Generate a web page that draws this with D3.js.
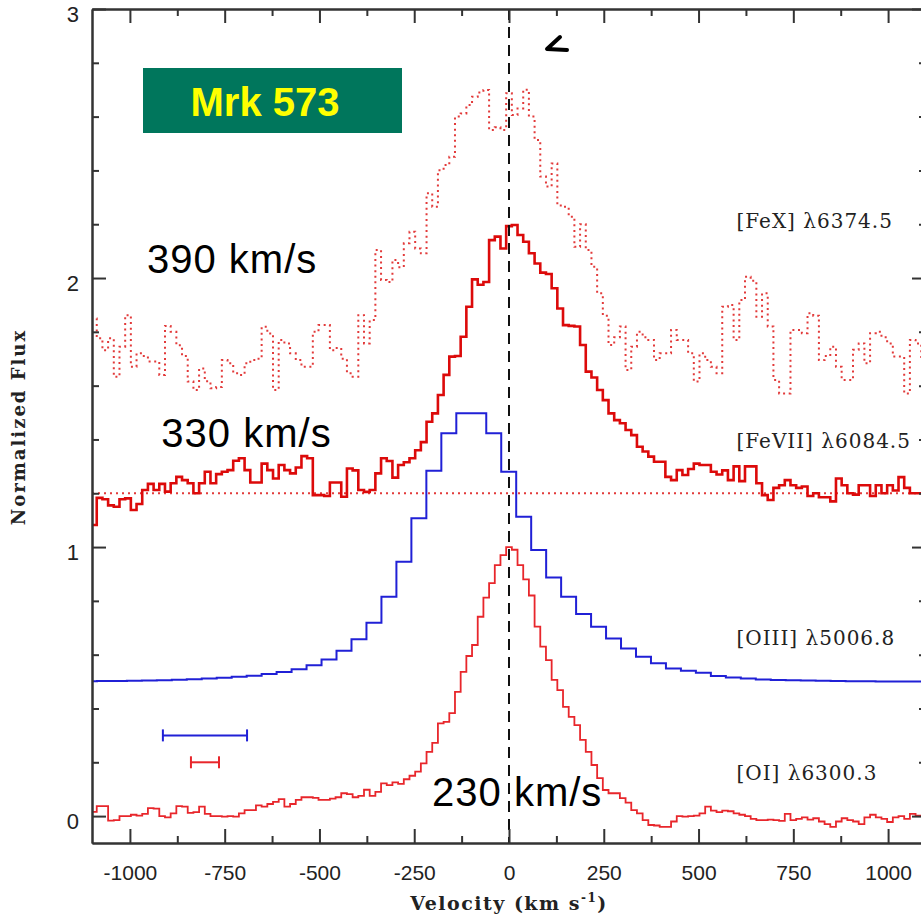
<!DOCTYPE html>
<html>
<head>
<meta charset="utf-8">
<script src="https://cdn.jsdelivr.net/npm/d3@7"></script>
<style>
  body { margin: 0; background: #fff; }
  svg { display: block; }
</style>
</head>
<body>
<svg id="chart"></svg>
<script>
// histogram bins (km/s): red spectra share one grid, [OIII] has coarser bins
const redBinStart = -1102.5;
const redBinWidth = 15;
const oiiiBinStart = -1126.5;
const oiiiBinWidth = 39.5;

// [OI] 6300.3, normalised flux per bin
const oiFlux = [
  0.016, 0.037, 0.037, -0.017, -0.015, 0.0, 0.0, 0.005, 0.002, 0.008,
  0.03, 0.028, 0.0, -0.005, 0.01, 0.037, 0.035, 0.012, 0.015, 0.035,
  0.008, 0.0, 0.0, -0.002, 0.0, -0.002, 0.01, 0.022, 0.022, 0.04,
  0.035, 0.045, 0.053, 0.063, 0.035, 0.045, 0.06, 0.07, 0.07, 0.068,
  0.06, 0.06, 0.065, 0.07, 0.085, 0.082, 0.07, 0.075, 0.098, 0.075,
  0.09, 0.122, 0.115, 0.125, 0.12, 0.137, 0.15, 0.165, 0.196, 0.239,
  0.272, 0.345, 0.35, 0.383, 0.462, 0.536, 0.595, 0.636, 0.741, 0.812,
  0.866, 0.933, 0.97, 1.0, 0.99, 0.933, 0.88, 0.82, 0.704, 0.63,
  0.58, 0.506, 0.468, 0.406, 0.369, 0.338, 0.283, 0.239, 0.19, 0.141,
  0.097, 0.085, 0.085, 0.067, 0.05, 0.022, 0.01, -0.015, -0.033, -0.035,
  -0.04, -0.04, -0.02, 0.0, -0.002, 0.0, 0.002, 0.01, 0.035, 0.02,
  0.015, 0.02, 0.018, 0.01, 0.005, 0.0, -0.01, -0.015, -0.015, -0.013,
  -0.015, -0.018, 0.008, -0.015, -0.01, -0.005, -0.013, -0.008, -0.02, -0.03,
  -0.04, -0.02, -0.008, -0.015, -0.02, -0.03, -0.005, 0.005, -0.005, -0.01,
  -0.022, -0.005, 0.0, -0.01, 0.008, 0.002, 0.0
];

// [OIII] 5006.8 (offset by +0.5)
const oiiiFlux = [
  0.501, 0.502, 0.502, 0.503, 0.504, 0.505, 0.507, 0.509, 0.511, 0.514,
  0.518, 0.522, 0.528, 0.536, 0.546, 0.561, 0.582, 0.615, 0.657, 0.719,
  0.815, 0.945, 1.107, 1.284, 1.423, 1.497, 1.497, 1.423, 1.28, 1.113,
  0.989, 0.887, 0.815, 0.751, 0.704, 0.66, 0.623, 0.592, 0.568, 0.549,
  0.54, 0.533, 0.521, 0.515, 0.511, 0.508, 0.506, 0.505, 0.504, 0.503,
  0.502, 0.501, 0.501, 0.5, 0.5, 0.5, 0.5
];

// [FeVII] 6084.5 (offset by +1.2)
const fe7Flux = [
  1.082, 1.183, 1.178, 1.155, 1.15, 1.178, 1.181, 1.138, 1.16, 1.212,
  1.235, 1.212, 1.235, 1.206, 1.237, 1.261, 1.249, 1.237, 1.2, 1.237,
  1.28, 1.237, 1.271, 1.28, 1.286, 1.321, 1.33, 1.286, 1.24, 1.24,
  1.31, 1.286, 1.255, 1.305, 1.286, 1.274, 1.296, 1.338, 1.33, 1.193,
  1.193, 1.19, 1.24, 1.24, 1.187, 1.292, 1.285, 1.212, 1.205, 1.212,
  1.274, 1.33, 1.32, 1.258, 1.305, 1.315, 1.33, 1.36, 1.39, 1.466,
  1.497, 1.565, 1.64, 1.708, 1.71, 1.782, 1.893, 1.995, 1.975, 1.985,
  2.141, 2.154, 2.11, 2.193, 2.197, 2.16, 2.135, 2.092, 2.054, 2.02,
  2.015, 1.962, 1.887, 1.825, 1.822, 1.82, 1.751, 1.652, 1.63, 1.584,
  1.546, 1.497, 1.472, 1.46, 1.435, 1.416, 1.373, 1.355, 1.336, 1.317,
  1.317, 1.261, 1.249, 1.286, 1.268, 1.29, 1.31, 1.305, 1.305, 1.28,
  1.27, 1.285, 1.249, 1.3, 1.245, 1.3, 1.3, 1.237, 1.193, 1.175,
  1.22, 1.23, 1.249, 1.23, 1.22, 1.225, 1.19, 1.2, 1.185, 1.185,
  1.17, 1.255, 1.23, 1.2, 1.195, 1.23, 1.23, 1.19, 1.23, 1.2,
  1.23, 1.21, 1.26, 1.22, 1.2, 1.2, 1.2
];

// [FeX] 6374.5 (dotted)
const fe10Flux = [
  1.85, 1.776, 1.732, 1.776, 1.633, 1.745, 1.862, 1.67, 1.72, 1.71,
  1.69, 1.69, 1.64, 1.822, 1.8, 1.75, 1.71, 1.615, 1.584, 1.664,
  1.616, 1.59, 1.595, 1.695, 1.683, 1.646, 1.64, 1.683, 1.695, 1.7,
  1.819, 1.794, 1.584, 1.77, 1.757, 1.72, 1.695, 1.67, 1.67, 1.8,
  1.825, 1.825, 1.732, 1.74, 1.7, 1.646, 1.633, 1.862, 1.757, 1.844,
  2.104, 1.993, 1.985, 2.067, 2.04, 2.129, 2.172, 2.11, 2.092, 2.315,
  2.265, 2.401, 2.42, 2.451, 2.6, 2.612, 2.643, 2.674, 2.69, 2.699,
  2.55, 2.56, 2.55, 2.687, 2.606, 2.63, 2.7, 2.6, 2.513, 2.377,
  2.34, 2.426, 2.27, 2.265, 2.228, 2.116, 2.2, 2.104, 2.042, 1.943,
  1.86, 1.751, 1.78, 1.82, 1.658, 1.745, 1.8, 1.78, 1.77, 1.695,
  1.72, 1.72, 1.807, 1.77, 1.77, 1.72, 1.615, 1.72, 1.695, 1.67,
  1.646, 1.893, 1.9, 1.77, 1.918, 2.005, 1.99, 1.856, 1.943, 1.82,
  1.621, 1.571, 1.571, 1.807, 1.807, 1.795, 1.869, 1.86, 1.695, 1.71,
  1.745, 1.67, 1.621, 1.621, 1.733, 1.757, 1.683, 1.795, 1.8, 1.78,
  1.757, 1.708, 1.708, 1.571, 1.77, 1.757, 1.7
];

const lineLabels = ['[FeX] \u03bb6374.5', '[FeVII] \u03bb6084.5', '[OIII] \u03bb5006.8', '[OI] \u03bb6300.3'];
const lineLabelY = [2.186, 1.368, 0.636, 0.134];
const lineLabelX = 600;

const widthLabels = ['390 km/s', '330 km/s', '230 km/s'];
const widthLabelX = [-955, -917, -203];
const widthLabelY = [2.017, 1.373, 0.037];

// instrumental resolution bars: [from, to, level]
const resBlue = [-913, -691, 0.3];
const resRed = [-839, -765, 0.2];
const fe7Continuum = 1.2;

const xMajor = [-1000, -750, -500, -250, 0, 250, 500, 750, 1000];
const xMinor = [-875, -625, -375, -125, 125, 375, 625, 875];
const yMajor = [0, 1, 2, 3];
const yMinor = [0.2, 0.4, 0.6, 0.8, 1.2, 1.4, 1.6, 1.8, 2.2, 2.4, 2.6, 2.8];

const width = 921;
const height = 918;
const plot = { left: 92, top: 9, right: 926, bottom: 843 };

const svg = d3.select('#chart')
  .attr('width', width)
  .attr('height', height);

const x = d3.scaleLinear().domain([-1100, 1100]).range([plot.left, plot.right]);
const y = d3.scaleLinear().domain([-0.1, 3]).range([plot.bottom, plot.top]);

svg.append('defs').append('clipPath')
  .attr('id', 'plot-clip')
  .append('rect')
    .attr('x', plot.left)
    .attr('y', plot.top)
    .attr('width', plot.right - plot.left)
    .attr('height', plot.bottom - plot.top);

const stepPoints = (values, start, step) => {
  const pts = values.map((v, i) => [start + i * step, v]);
  pts.push([start + values.length * step, values[values.length - 1]]);
  return pts;
};

const line = d3.line()
  .x(d => x(d[0]))
  .y(d => y(d[1]))
  .curve(d3.curveStepAfter);

const series = [
  { values: fe10Flux, start: redBinStart, step: redBinWidth, color: '#e23a3a', width: 2, dash: '2,3.6' },
  { values: fe7Flux, start: redBinStart, step: redBinWidth, color: '#dc0a0a', width: 2.6, dash: null },
  { values: oiiiFlux, start: oiiiBinStart, step: oiiiBinWidth, color: '#2020d6', width: 2, dash: null },
  { values: oiFlux, start: redBinStart, step: redBinWidth, color: '#e8262b', width: 1.8, dash: null }
];

const g = svg.append('g').attr('clip-path', 'url(#plot-clip)');

// continuum level of [FeVII]
g.append('line')
  .attr('x1', x(-1100))
  .attr('x2', x(1100))
  .attr('y1', y(fe7Continuum))
  .attr('y2', y(fe7Continuum))
  .attr('stroke', '#e23a3a')
  .attr('stroke-width', 2)
  .attr('stroke-dasharray', '2,4');

g.selectAll('path.spec')
  .data(series)
  .enter().append('path')
    .attr('class', 'spec')
    .attr('d', d => line(stepPoints(d.values, d.start, d.step)))
    .attr('fill', 'none')
    .attr('stroke', d => d.color)
    .attr('stroke-width', d => d.width)
    .attr('stroke-dasharray', d => d.dash);

// systemic velocity
g.append('line')
  .attr('x1', x(0))
  .attr('x2', x(0))
  .attr('y1', y(3))
  .attr('y2', y(-0.1))
  .attr('stroke', '#111')
  .attr('stroke-width', 2)
  .attr('stroke-dasharray', '11,7');

// resolution bars
[[resBlue, '#2020d6'], [resRed, '#e8262b']].forEach(([bar, color]) => {
  const bg = g.append('g').attr('stroke', color).attr('stroke-width', 2);
  bg.append('line')
    .attr('x1', x(bar[0])).attr('x2', x(bar[1]))
    .attr('y1', y(bar[2])).attr('y2', y(bar[2]));
  [bar[0], bar[1]].forEach(v => {
    bg.append('line')
      .attr('x1', x(v)).attr('x2', x(v))
      .attr('y1', y(bar[2]) - 6).attr('y2', y(bar[2]) + 6);
  });
});

// axes, ticks pointing inward on all four sides
const tickFont = '"Liberation Sans", Arial, sans-serif';
const styleAxis = sel => {
  sel.selectAll('.domain').attr('stroke', '#333').attr('stroke-width', 2);
  sel.selectAll('.tick line').attr('stroke', '#333').attr('stroke-width', 2);
  sel.selectAll('.tick text').attr('fill', '#222').style('font-family', tickFont).style('font-size', '21px');
};

svg.append('g')
  .attr('transform', `translate(0,${plot.bottom})`)
  .call(d3.axisBottom(x).tickValues(xMajor).tickSize(-14).tickSizeOuter(0).tickPadding(22).tickFormat(d => String(d)))
  .call(styleAxis);
svg.append('g')
  .attr('transform', `translate(0,${plot.bottom})`)
  .call(d3.axisBottom(x).tickValues(xMinor).tickSize(-7).tickSizeOuter(0).tickFormat(''))
  .call(styleAxis);
svg.append('g')
  .attr('transform', `translate(0,${plot.top})`)
  .call(d3.axisTop(x).tickValues(xMajor).tickSize(-14).tickSizeOuter(0).tickFormat(''))
  .call(styleAxis);
svg.append('g')
  .attr('transform', `translate(0,${plot.top})`)
  .call(d3.axisTop(x).tickValues(xMinor).tickSize(-7).tickSizeOuter(0).tickFormat(''))
  .call(styleAxis);

svg.append('g')
  .attr('transform', `translate(${plot.left},0)`)
  .call(d3.axisLeft(y).tickValues(yMajor).tickSize(-14).tickSizeOuter(0).tickPadding(13).tickFormat(d => String(d)))
  .call(styleAxis)
  .selectAll('.tick text').attr('dy', '0.58em').style('font-size', '22px');
svg.append('g')
  .attr('transform', `translate(${plot.left},0)`)
  .call(d3.axisLeft(y).tickValues(yMinor).tickSize(-7).tickSizeOuter(0).tickFormat(''))
  .call(styleAxis);
svg.append('g')
  .attr('transform', `translate(${plot.right},0)`)
  .call(d3.axisRight(y).tickValues(yMajor).tickSize(-14).tickSizeOuter(0).tickFormat(''))
  .call(styleAxis);
svg.append('g')
  .attr('transform', `translate(${plot.right},0)`)
  .call(d3.axisRight(y).tickValues(yMinor).tickSize(-7).tickSizeOuter(0).tickFormat(''))
  .call(styleAxis);

// axis titles
const titleFont = '"DejaVu Serif", "Liberation Serif", serif';
const xTitle = svg.append('text')
  .attr('x', x(0))
  .attr('y', 910)
  .attr('text-anchor', 'middle')
  .style('font-family', titleFont)
  .style('font-weight', 'bold')
  .style('font-size', '19px')
  .style('letter-spacing', '1.5px')
  .attr('fill', '#222')
  .text('Velocity (km s');
xTitle.append('tspan').attr('dy', -8).style('font-size', '12px').text('-1');
xTitle.append('tspan').attr('dy', 8).text(')');

svg.append('text')
  .attr('transform', `translate(25,${(plot.top + plot.bottom) / 2 + 1}) rotate(-90)`)
  .attr('text-anchor', 'middle')
  .style('font-family', titleFont)
  .style('font-weight', 'bold')
  .style('font-size', '18px')
  .style('letter-spacing', '2px')
  .attr('fill', '#222')
  .text('Normalized Flux');

// line identifications
svg.selectAll('text.line-id')
  .data(lineLabels)
  .enter().append('text')
    .attr('class', 'line-id')
    .attr('x', x(lineLabelX))
    .attr('y', (d, i) => y(lineLabelY[i]))
    .style('font-family', titleFont)
    .style('font-size', '20px')
    .style('letter-spacing', '1px')
    .attr('fill', '#222')
    .text(d => d);

// measured widths
svg.selectAll('text.fwhm')
  .data(widthLabels)
  .enter().append('text')
    .attr('class', 'fwhm')
    .attr('x', (d, i) => x(widthLabelX[i]))
    .attr('y', (d, i) => y(widthLabelY[i]))
    .style('font-family', tickFont)
    .style('font-size', '40px')
    .style('letter-spacing', '1px')
    .attr('fill', '#000')
    .text(d => d);

// object tag
svg.append('rect')
  .attr('x', 143)
  .attr('y', 68)
  .attr('width', 259)
  .attr('height', 65)
  .attr('fill', '#00765c');
svg.append('text')
  .attr('x', 265)
  .attr('y', 116)
  .attr('text-anchor', 'middle')
  .style('font-family', tickFont)
  .style('font-weight', 'bold')
  .style('font-size', '40px')
  .attr('fill', '#ffff00')
  .text('Mrk 573');

// stray pen mark near the top
svg.append('path')
  .attr('d', 'M560,37 L547,49 L567,50')
  .attr('fill', 'none')
  .attr('stroke', '#000')
  .attr('stroke-width', 4)
  .attr('stroke-linejoin', 'round')
  .attr('stroke-linecap', 'round');
</script>
</body>
</html>
